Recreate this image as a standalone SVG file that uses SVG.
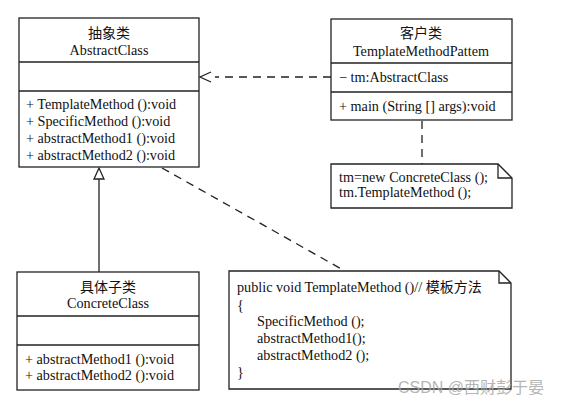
<svg xmlns="http://www.w3.org/2000/svg" width="561" height="404" viewBox="0 0 561 404">
<style>
.box{fill:#fff;stroke:#222;stroke-width:1.3}
.ln{stroke:#222;stroke-width:1.3;fill:none}
.dash{stroke:#222;stroke-width:1.3;fill:none;stroke-dasharray:8,6}
text{font-family:"Liberation Serif","Noto Sans CJK SC",serif;font-size:14.2px;fill:#111}
.c{text-anchor:middle}
.cjk{font-family:"Noto Sans CJK SC","Liberation Serif",sans-serif;font-size:14px}
.wm{font-family:"Liberation Sans","Noto Sans CJK SC",sans-serif;font-size:16px;fill:#aaa;opacity:.85}
</style>
<g id="connectors">
<line class="dash" x1="331" y1="77" x2="215" y2="77"/>
<path class="ln" d="M211,72 L200,77 L211,82"/>
<line class="dash" x1="422" y1="121" x2="422" y2="164"/>
<line class="dash" x1="162" y1="168" x2="345" y2="271"/>
<line class="ln" x1="99" y1="272" x2="99" y2="179"/>
<path class="ln" d="M94,179 L99,168 L104,179 Z" fill="#fff"/>
</g>
<g id="AbstractClass">
<rect class="box" x="19" y="18" width="180" height="149"/>
<line class="ln" x1="19" y1="62" x2="199" y2="62"/>
<line class="ln" x1="19" y1="91" x2="199" y2="91"/>
<text class="c cjk" x="109" y="38">抽象类</text>
<text class="c" x="109" y="55">AbstractClass</text>
<text x="26" y="109">+ TemplateMethod ():void</text>
<text x="26" y="126">+ SpecificMethod ():void</text>
<text x="26" y="143">+ abstractMethod1 ():void</text>
<text x="26" y="160">+ abstractMethod2 ():void</text>
</g>
<g id="TemplateMethodPattem">
<rect class="box" x="331" y="19" width="181" height="101"/>
<line class="ln" x1="331" y1="63" x2="512" y2="63"/>
<line class="ln" x1="331" y1="92" x2="512" y2="92"/>
<text class="c cjk" x="421" y="38">客户类</text>
<text class="c" x="421" y="56">TemplateMethodPattem</text>
<text x="339" y="82">− tm:AbstractClass</text>
<text x="339" y="111">+ main (String [] args):void</text>
</g>
<g id="note1">
<path class="box" d="M331,164 L498,164 L512,178 L512,208 L331,208 Z"/>
<path class="ln" d="M498,164 L498,178 L512,178"/>
<text x="339" y="182">tm=new ConcreteClass ();</text>
<text x="339" y="197">tm.TemplateMethod ();</text>
</g>
<g id="ConcreteClass">
<rect class="box" x="17" y="272" width="182" height="118"/>
<line class="ln" x1="17" y1="316" x2="199" y2="316"/>
<line class="ln" x1="17" y1="345" x2="199" y2="345"/>
<text class="c cjk" x="108" y="292">具体子类</text>
<text class="c" x="108" y="308">ConcreteClass</text>
<text x="25" y="364">+ abstractMethod1 ():void</text>
<text x="25" y="380">+ abstractMethod2 ():void</text>
</g>
<g id="note2">
<path class="box" d="M229,271 L499,271 L511,283 L511,389 L229,389 Z"/>
<path class="ln" d="M499,271 L499,283 L511,283"/>
<text x="237" y="292">public void TemplateMethod ()// <tspan class="cjk">模板方法</tspan></text>
<text x="237" y="310">{</text>
<text x="257" y="326">SpecificMethod ();</text>
<text x="257" y="343">abstractMethod1();</text>
<text x="257" y="360">abstractMethod2 ();</text>
<text x="237" y="377">}</text>
</g>
<text class="wm" x="398" y="393">CSDN @西财彭于晏</text>
</svg>
